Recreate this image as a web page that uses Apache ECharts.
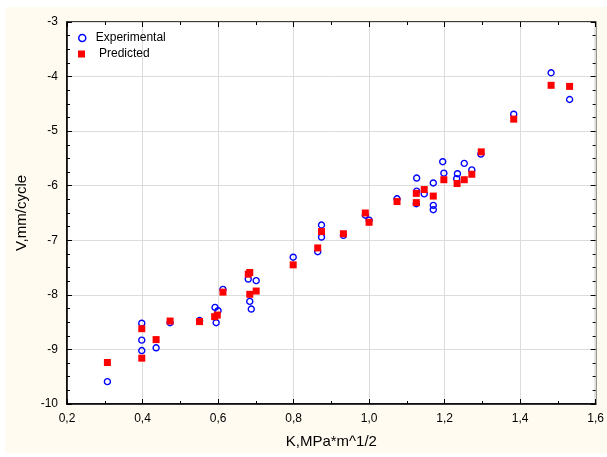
<!DOCTYPE html>
<html>
<head>
<meta charset="utf-8">
<script src="https://cdn.jsdelivr.net/npm/echarts@6/dist/echarts.min.js"></script>
<style>
body { margin: 0; background: #fff; }
#wrap { position: relative; width: 607px; height: 457px; background: #fff; }
#paper { position: absolute; left: 5px; top: 7px; width: 602px; height: 446px; background: #fffbf0; }
#main { position: absolute; left: 0; top: 0; width: 607px; height: 457px; }
</style>
</head>
<body>
<div id="wrap"><div id="paper"></div><div id="main"></div></div>
<script>
// 实验值 (K, V)
let expK = [0.307, 0.398, 0.398, 0.398, 0.436, 0.473, 0.551, 0.592, 0.600, 0.595,
	0.613, 0.680, 0.701, 0.684, 0.688, 0.799, 0.864, 0.874, 0.874, 0.932,
	0.990, 1.000, 1.074, 1.126, 1.126, 1.125, 1.146, 1.170, 1.170, 1.170,
	1.195, 1.198, 1.234, 1.232, 1.252, 1.272, 1.296, 1.383, 1.482, 1.531];
let expV = [-9.59, -8.52, -8.83, -9.02, -8.97, -8.51, -8.47, -8.23, -8.29, -8.51,
	-7.90, -7.71, -7.74, -8.12, -8.26, -7.31, -7.21, -6.72, -6.94, -6.91,
	-6.54, -6.63, -6.24, -5.86, -6.10, -6.33, -6.15, -5.95, -6.36, -6.44,
	-5.56, -5.77, -5.78, -5.87, -5.59, -5.71, -5.42, -4.69, -3.93, -4.42];
// 预测值 (K, V)
let preK = [0.307, 0.398, 0.398, 0.436, 0.473, 0.551, 0.591, 0.598, 0.613, 0.680,
	0.684, 0.684, 0.701, 0.799, 0.864, 0.874, 0.932, 0.990, 1.000, 1.074,
	1.125, 1.125, 1.146, 1.170, 1.198, 1.233, 1.252, 1.272, 1.297, 1.383,
	1.482, 1.531];
let preV = [-9.24, -8.62, -9.16, -8.82, -8.48, -8.49, -8.40, -8.37, -7.95, -7.62,
	-7.59, -7.99, -7.93, -7.45, -7.14, -6.84, -6.88, -6.50, -6.67, -6.29,
	-6.14, -6.31, -6.07, -6.19, -5.89, -5.96, -5.89, -5.79, -5.38, -4.78,
	-4.16, -4.18];
let xTicks = [0.2, 1.6, 0.2]; // min, max, interval
let yTicks = [-10, -3, 1];

function pairs(a, b) {
	let out = [];
	for (let i = 0; i < a.length; i++) out.push([a[i], b[i]]);
	return out;
}

let font = "Liberation Sans, Arial, sans-serif";
let tickStyle = { inside: true, length: 5, lineStyle: { color: '#000', width: 1 } };
let minorStyle = { show: true, length: 3, lineStyle: { color: '#000', width: 1 } };

let myChart = echarts.init(document.getElementById('main'));
let option = {
	backgroundColor: 'transparent',
	animation: false,
	grid: {
		left: 67, top: 22, right: 8, bottom: 53,
		show: true, backgroundColor: '#fff', borderColor: '#000', borderWidth: 1.5
	},
	legend: [{
		left: 73, top: 27, itemWidth: 7, itemHeight: 7, itemGap: 0,
		textStyle: { fontFamily: font, fontSize: 12, color: '#000', padding: [0, 0, 0, 5] },
		data: [{ name: 'Experimental', itemStyle: { borderWidth: 1.5 } }]
	}, {
		left: 73, top: 43, itemWidth: 7, itemHeight: 7, itemGap: 0,
		textStyle: { fontFamily: font, fontSize: 12, color: '#000', padding: [0, 0, 0, 9] },
		data: ['Predicted']
	}],
	xAxis: [{
		type: 'value', min: xTicks[0], max: xTicks[1], interval: xTicks[2],
		name: 'K,MPa*m^1/2', nameLocation: 'middle', nameGap: 30,
		nameTextStyle: { fontFamily: font, fontSize: 15, color: '#000' },
		axisLine: { lineStyle: { color: '#000', width: 1.5 } },
		axisTick: tickStyle,
		minorTick: Object.assign({ splitNumber: 2 }, minorStyle),
		axisLabel: { fontFamily: font, fontSize: 12, color: '#000', margin: 9,
			formatter: function(v) { return v.toFixed(1).replace('.', ','); } },
		splitLine: { lineStyle: { color: '#dcdcdc', width: 1 } }
	}, {
		type: 'value', position: 'top', min: xTicks[0], max: xTicks[1], interval: xTicks[2],
		axisLine: { show: false }, axisTick: tickStyle,
		minorTick: Object.assign({ splitNumber: 2 }, minorStyle),
		axisLabel: { show: false }, splitLine: { show: false }
	}],
	yAxis: [{
		type: 'value', min: yTicks[0], max: yTicks[1], interval: yTicks[2],
		name: 'V,mm/cycle', nameLocation: 'middle', nameGap: 24,
		nameTextStyle: { fontFamily: font, fontSize: 15, color: '#000' },
		axisLine: { show: true, lineStyle: { color: '#000', width: 1.5 } },
		axisTick: tickStyle,
		minorTick: Object.assign({ splitNumber: 4 }, minorStyle),
		axisLabel: { fontFamily: font, fontSize: 12, color: '#000', margin: 9 },
		splitLine: { lineStyle: { color: '#dcdcdc', width: 1 } }
	}, {
		type: 'value', position: 'right', min: yTicks[0], max: yTicks[1], interval: yTicks[2],
		axisLine: { show: false }, axisTick: tickStyle,
		minorTick: Object.assign({ splitNumber: 4 }, minorStyle),
		axisLabel: { show: false }, splitLine: { show: false }
	}],
	series: [{
		name: 'Experimental', type: 'scatter', symbol: 'circle', symbolSize: 6,
		itemStyle: { color: 'transparent', borderColor: '#0000ff', borderWidth: 1.4, opacity: 1 },
		data: pairs(expK, expV), z: 3
	}, {
		name: 'Predicted', type: 'scatter', symbol: 'rect', symbolSize: 7,
		itemStyle: { color: '#ff0000', opacity: 1 },
		data: pairs(preK, preV), z: 4
	}]
};
myChart.setOption(option);
</script>
</body>
</html>
